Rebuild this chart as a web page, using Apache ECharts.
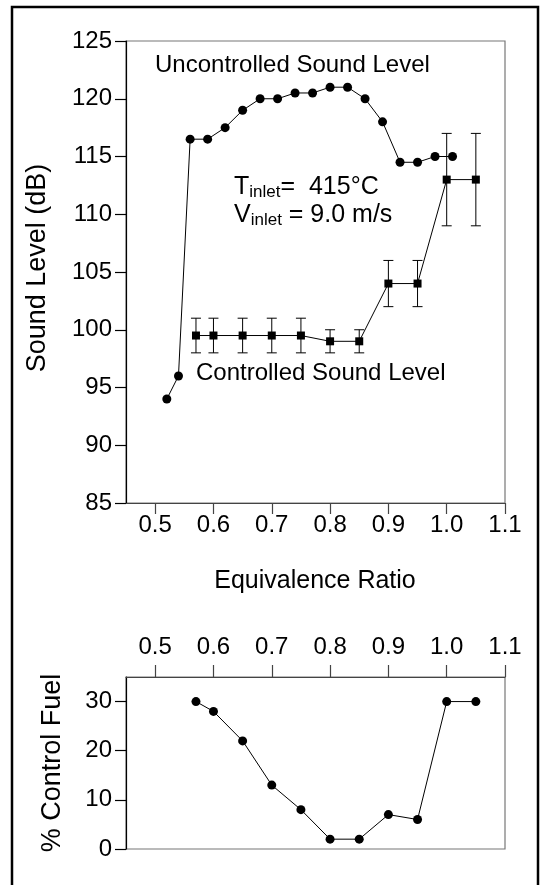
<!DOCTYPE html>
<html>
<head>
<meta charset="utf-8">
<script src="https://cdn.jsdelivr.net/npm/echarts@6/dist/echarts.min.js"></script>
<style>
html,body{margin:0;padding:0;background:#fff;}
#chart{width:544px;height:885px;}
</style>
</head>
<body>
<div id="chart"></div>
<script>
// ---- data ----
const phiUncontrolled = [0.52,0.54,0.56,0.59,0.62,0.65,0.68,0.71,0.74,0.77,0.80,0.83,0.86,0.89,0.92,0.95,0.98,1.01];
const dBUncontrolled  = [94,96,116.5,116.5,117.5,119,120,120,120.5,120.5,121,121,120,118,114.5,114.5,115,115];
const phiControlled = [0.57,0.60,0.65,0.70,0.75,0.80,0.85,0.90,0.95,1.00,1.05];
const dBControlled  = [99.5,99.5,99.5,99.5,99.5,99,99,104,104,113,113];
const dBErrLow      = [98,98,98,98,98,98,98,102,102,109,109];
const dBErrHigh     = [101,101,101,101,101,100,100,106,106,117,117];
const fuelPercent   = [30,28,22,13,8,2,2,7,6,30,30];
const phiTickLabels = [0.5,0.6,0.7,0.8,0.9,1.0,1.1];
const fuelTickLabels = [0,10,20,30];

const FONT = "'Liberation Sans', Arial, Helvetica, sans-serif";
const chart = echarts.init(document.getElementById('chart'), null, {renderer:'canvas'});

const pairs = (xs, ys) => xs.map((x,i)=>[x, ys[i]]);

const option = {
  backgroundColor:'#fff',
  animation:false,
  grid:[
    {left:126, top:41, width:379, height:462, show:true, borderColor:'#777', borderWidth:1.2, backgroundColor:'transparent'},
    {left:126, top:677, width:379, height:172, show:true, borderColor:'#777', borderWidth:1.2, backgroundColor:'transparent'}
  ],
  xAxis:[
    {gridIndex:0, type:'value', min:0.45, max:1.1, position:'bottom',
     axisLine:{show:true, onZero:false, lineStyle:{color:'#444', width:1.2}},
     axisTick:{show:true, inside:false, length:11, customValues:phiTickLabels, lineStyle:{color:'#444', width:1.2}},
     axisLabel:{customValues:phiTickLabels, margin:10, fontSize:24, fontFamily:FONT, color:'#000', formatter:v=>v.toFixed(1)},
     splitLine:{show:false}},
    {gridIndex:1, type:'value', min:0.45, max:1.1, position:'top',
     axisLine:{show:true, onZero:false, lineStyle:{color:'#444', width:1.2}},
     axisTick:{show:true, inside:false, length:12, customValues:phiTickLabels, lineStyle:{color:'#444', width:1.2}},
     axisLabel:{customValues:phiTickLabels, margin:18, fontSize:24, fontFamily:FONT, color:'#000', formatter:v=>v.toFixed(1)},
     splitLine:{show:false}}
  ],
  yAxis:[
    {gridIndex:0, type:'value', min:85, max:125, interval:5,
     axisLine:{show:true, onZero:false, lineStyle:{color:'#000', width:1.2}},
     axisTick:{show:true, inside:false, length:11, lineStyle:{color:'#000', width:1.2}},
     axisLabel:{margin:14, fontSize:24, fontFamily:FONT, color:'#000'},
     splitLine:{show:false}},
    {gridIndex:1, type:'value', min:0, max:35,
     axisLine:{show:true, onZero:false, lineStyle:{color:'#000', width:1.2}},
     axisTick:{show:true, inside:false, length:11, customValues:fuelTickLabels, lineStyle:{color:'#000', width:1.2}},
     axisLabel:{customValues:fuelTickLabels, margin:14, fontSize:24, fontFamily:FONT, color:'#000'},
     splitLine:{show:false}}
  ],
  series:[
    {name:'Uncontrolled', type:'line', xAxisIndex:0, yAxisIndex:0,
     data:pairs(phiUncontrolled, dBUncontrolled),
     symbol:'circle', symbolSize:9, showAllSymbol:true,
     lineStyle:{color:'#000', width:1}, itemStyle:{color:'#000'}, z:3},
    {name:'ErrorBars', type:'custom', xAxisIndex:0, yAxisIndex:0,
     data:phiControlled.map((p,i)=>[p, dBErrLow[i], dBErrHigh[i]]),
     encode:{x:0, y:[1,2]},
     renderItem:function(params, api){
       const x = api.value(0);
       const lo = api.coord([x, api.value(1)]);
       const hi = api.coord([x, api.value(2)]);
       const w = 5;
       const st = {stroke:'#000', lineWidth:1};
       return {type:'group', children:[
         {type:'line', shape:{x1:lo[0], y1:lo[1], x2:hi[0], y2:hi[1]}, style:st},
         {type:'line', shape:{x1:hi[0]-w, y1:hi[1], x2:hi[0]+w, y2:hi[1]}, style:st},
         {type:'line', shape:{x1:lo[0]-w, y1:lo[1], x2:lo[0]+w, y2:lo[1]}, style:st}
       ]};
     }, z:2},
    {name:'Controlled', type:'line', xAxisIndex:0, yAxisIndex:0,
     data:pairs(phiControlled, dBControlled),
     symbol:'rect', symbolSize:8, showAllSymbol:true,
     lineStyle:{color:'#000', width:1}, itemStyle:{color:'#000'}, z:3},
    {name:'Fuel', type:'line', xAxisIndex:1, yAxisIndex:1,
     data:pairs(phiControlled, fuelPercent),
     symbol:'circle', symbolSize:9, showAllSymbol:true,
     lineStyle:{color:'#000', width:1}, itemStyle:{color:'#000'}, z:3}
  ],
  graphic:[
    {type:'rect', shape:{x:12, y:7, width:526, height:895}, style:{fill:'none', stroke:'#000', lineWidth:2.5}, silent:true},
    {type:'text', x:155, y:65, style:{text:'Uncontrolled Sound Level', font:'24px '+FONT, fill:'#000', textAlign:'left', textVerticalAlign:'middle'}},
    {type:'text', x:196, y:373, style:{text:'Controlled Sound Level', font:'24px '+FONT, fill:'#000', textAlign:'left', textVerticalAlign:'middle'}},
    {type:'text', x:234, y:173, style:{
      text:'{m|T}{s|inlet}{m|=  415°C}',
      rich:{m:{fontSize:25, fontFamily:FONT, fill:'#000', lineHeight:28, verticalAlign:'middle'},
            s:{fontSize:17, fontFamily:FONT, fill:'#000', lineHeight:17, verticalAlign:'bottom'}}}},
    {type:'text', x:234, y:201, style:{
      text:'{m|V}{s|inlet}{m| = 9.0 m/s}',
      rich:{m:{fontSize:25, fontFamily:FONT, fill:'#000', lineHeight:28, verticalAlign:'middle'},
            s:{fontSize:17, fontFamily:FONT, fill:'#000', lineHeight:17, verticalAlign:'bottom'}}}},
    {type:'text', x:315, y:581, style:{text:'Equivalence Ratio', font:'25px '+FONT, fill:'#000', textAlign:'center', textVerticalAlign:'middle'}},
    {type:'text', x:38, y:268, rotation:Math.PI/2, style:{text:'Sound Level (dB)', font:'27px '+FONT, fill:'#000', textAlign:'center', textVerticalAlign:'middle'}},
    {type:'text', x:53, y:763, rotation:Math.PI/2, style:{text:'% Control Fuel', font:'27px '+FONT, fill:'#000', textAlign:'center', textVerticalAlign:'middle'}}
  ]
};
chart.setOption(option);
</script>
</body>
</html>
